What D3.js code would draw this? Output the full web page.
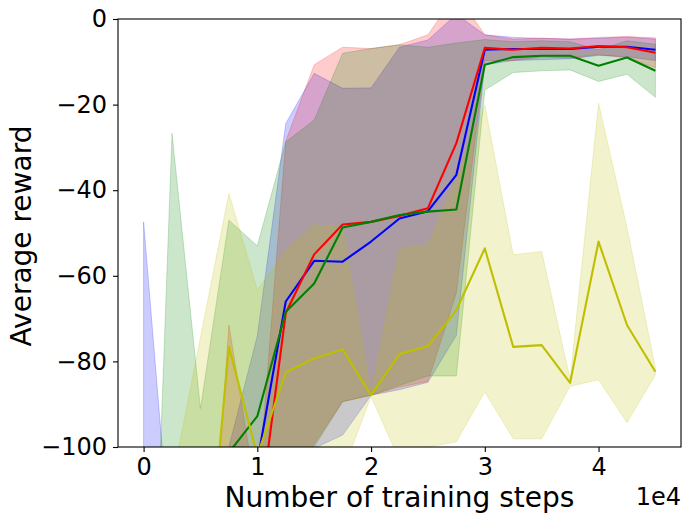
<!DOCTYPE html>
<html>
<head>
<meta charset="utf-8">
<script src="https://cdn.jsdelivr.net/npm/d3@7"></script>
<style>
body{margin:0;background:#fff;}
text{font-family:"DejaVu Sans",sans-serif;fill:#000;}
</style>
</head>
<body>
<div id="container"></div>
<script>
// training steps (x) and per-run mean / std of the average reward
var steps = [0,2500,5000,7500,10000,12500,15000,17500,20000,22500,25000,27500,30000,32500,35000,37500,40000,42500,45000];

var blueMean = [-160,-190,-180,-135,-103.5,-66,-56.5,-56.7,-52,-46.6,-44.9,-36.4,-7.2,-7.0,-7.0,-7.0,-6.5,-6.5,-7.2];
var blueStd  = [112.6,62,25,35,29.5,41.6,43.8,40.5,35.9,40,40,37.5,3.5,2.7,2.5,2.3,2.0,2.3,2.5];

var redMean = [-200,-210,-190,-110,-120,-68.7,-55,-48,-47.4,-46,-44.2,-29,-6.7,-7.2,-6.7,-6.9,-6.3,-6.6,-7.9];
var redStd  = [20,20,23,38.5,7.5,40.2,44.3,41.4,40.5,40,40.5,35,3,2.5,2.2,2.2,2,2.5,3.5];

var greenMean = [-250,-140,-160,-101.3,-92.8,-68.4,-61.8,-48.7,-47.4,-45.8,-45,-44.5,-10.7,-8.9,-8.6,-8.6,-10.9,-9,-12.1];
var greenStd  = [42,113.3,69,54.3,39.8,39.7,38.2,40.7,40.5,39.8,38.4,38.9,5.9,3.6,3.5,3.3,3.7,3.9,6.2];

var yellowMean = [-200,-170,-149,-76.6,-102,-82.6,-79.3,-77.2,-87.9,-78.3,-76.4,-68,-53.6,-76.6,-76.2,-85,-52,-71.5,-82.4];
var yellowStd  = [30,62,74.6,35.9,38.7,28.6,31.2,28.6,0.3,24.8,23.6,30.8,33.5,21.5,21.9,0.8,32.3,22.8,0.8];

var xTicks = [0,10000,20000,30000,40000];
var yTicks = [0,-20,-40,-60,-80,-100];

var vis = {
	w:690,
	h:523,
	box:{left:118, right:681, top:19, bottom:447},

	generate:function(){
		var self = vis;
		var b = self.box;

		var x = d3.scaleLinear().domain([-2250,47250]).range([b.left,b.right]);
		var y = d3.scaleLinear().domain([-100,0]).range([b.bottom,b.top]);

		var series = [
			{color:'#0000ff', mean:blueMean, std:blueStd},
			{color:'#ff0000', mean:redMean, std:redStd},
			{color:'#008000', mean:greenMean, std:greenStd},
			{color:'#bfbf00', mean:yellowMean, std:yellowStd}
		];

		var svg = d3.select('#container').append('svg')
			.attr('width',self.w)
			.attr('height',self.h);

		svg.append('clipPath').attr('id','plot')
			.append('rect')
			.attr('x',b.left).attr('y',b.top)
			.attr('width',b.right-b.left).attr('height',b.bottom-b.top);

		var plot = svg.append('g').attr('clip-path','url(#plot)');

		var band = d3.area()
			.x(function(d,i){ return x(steps[i]); })
			.y0(function(d){ return y(d[0]-d[1]); })
			.y1(function(d){ return y(d[0]+d[1]); });

		var line = d3.line()
			.x(function(d,i){ return x(steps[i]); })
			.y(function(d){ return y(d); });

		series.forEach(function(s){
			var pts = s.mean.map(function(m,i){ return [m,s.std[i]]; });
			plot.append('path')
				.attr('d',band(pts))
				.attr('fill',s.color)
				.attr('fill-opacity',0.2)
				.attr('stroke',s.color)
				.attr('stroke-opacity',0.2)
				.attr('stroke-width',1);
		});

		series.forEach(function(s){
			plot.append('path')
				.attr('d',line(s.mean))
				.attr('fill','none')
				.attr('stroke',s.color)
				.attr('stroke-width',2.1)
				.attr('stroke-linejoin','round');
		});

		// axes
		var xAxis = svg.append('g')
			.attr('transform','translate(0,'+b.bottom+')')
			.call(d3.axisBottom(x).tickValues(xTicks)
				.tickFormat(function(d){ return d/1e4; })
				.tickSize(5).tickPadding(6));
		var yAxis = svg.append('g')
			.attr('transform','translate('+b.left+',0)')
			.call(d3.axisLeft(y).tickValues(yTicks)
				.tickFormat(function(d){ return d<0 ? '\u2212'+Math.abs(d) : d; })
				.tickSize(5).tickPadding(6));

		[xAxis,yAxis].forEach(function(a){
			a.select('.domain').remove();
			a.selectAll('line').attr('stroke','#000').attr('stroke-width',1.1);
			a.selectAll('text').style('font-size','24px').style('font-family','DejaVu Sans');
		});

		svg.append('rect')
			.attr('x',b.left).attr('y',b.top)
			.attr('width',b.right-b.left).attr('height',b.bottom-b.top)
			.attr('fill','none').attr('stroke','#000').attr('stroke-width',1.1);

		svg.append('text')
			.attr('x',(b.left+b.right)/2).attr('y',507)
			.attr('text-anchor','middle')
			.style('font-size','28px')
			.text('Number of training steps');

		svg.append('text')
			.attr('x',b.right).attr('y',505)
			.attr('text-anchor','end')
			.style('font-size','24px')
			.text('1e4');

		svg.append('text')
			.attr('transform','translate(31,236) rotate(-90)')
			.attr('text-anchor','middle')
			.style('font-size','28px')
			.text('Average reward');
	}
};

vis.generate();
</script>
</body>
</html>
